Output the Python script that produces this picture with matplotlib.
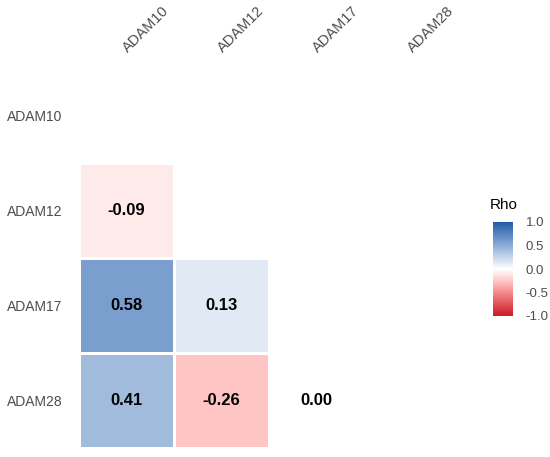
import numpy as np
import matplotlib.pyplot as plt
from matplotlib.colors import LinearSegmentedColormap, Normalize
from matplotlib.colorbar import ColorbarBase

plt.rcParams['font.family'] = ['Liberation Sans', 'DejaVu Sans']

genes = ["ADAM10", "ADAM12", "ADAM17", "ADAM28"]
# lower triangle of the correlation matrix (row, column) -> rho
rho = np.array([
    [np.nan, np.nan, np.nan, np.nan],
    [-0.09, np.nan, np.nan, np.nan],
    [0.58, 0.13, np.nan, np.nan],
    [0.41, -0.26, 0.00, np.nan],
])
cbar_ticks = [1.0, 0.5, 0.0, -0.5, -1.0]

# red - white - blue gradient, roughly like ggplot's gradient2 (Lab blend)
cmap = LinearSegmentedColormap.from_list("rho", [
    (0.0, "#cc1a28"), (0.25, "#f38a8c"), (0.37, "#ffc4c4"),
    (0.5, "#ffffff"), (0.79, "#7ba0cf"), (1.0, "#1f5ba8")], N=257)
norm = Normalize(vmin=-1, vmax=1)

fig = plt.figure(figsize=(5.5, 4.57), dpi=100)
ax = fig.add_axes([79 / 550, 9 / 457, 380 / 550, 380 / 457])

n = len(genes)
masked = np.ma.masked_invalid(rho)
ax.pcolormesh(np.arange(n + 1), np.arange(n + 1), masked, cmap=cmap, norm=norm,
              edgecolors="white", linewidth=2)
ax.set_xlim(0, n)
ax.set_ylim(n, 0)

for i in range(n):
    for j in range(n):
        if not np.isnan(rho[i, j]):
            ax.text(j + 0.5, i + 0.5, f"{rho[i, j]:.2f}", ha="center", va="center",
                    fontsize=12, fontweight="bold", color="black")

ax.set_xticks(np.arange(n) + 0.54)
ax.set_yticks(np.arange(n) + 0.5)
ax.xaxis.tick_top()
ax.set_xticklabels(genes, rotation=45, ha="left", va="bottom", rotation_mode="anchor",
                   fontsize=10.5, color="#4d4d4d")
ax.set_yticklabels(genes, fontsize=10, color="#4d4d4d")
ax.tick_params(axis="both", length=0)
ax.tick_params(axis="x", pad=9)
ax.tick_params(axis="y", pad=12)
for s in ax.spines.values():
    s.set_visible(False)

cax = fig.add_axes([493 / 550, (457 - 316) / 457, 20 / 550, 94 / 457])
cb = ColorbarBase(cax, cmap=cmap, norm=norm, ticks=cbar_ticks)
cb.outline.set_visible(False)
cb.ax.tick_params(length=0, labelsize=9.5, labelcolor="#4d4d4d", pad=9)
cb.ax.set_yticklabels([f"{t:.1f}" for t in cbar_ticks])
fig.text(490 / 550, 1 - 205 / 457, "Rho", fontsize=11, ha="left", va="center")

fig.savefig("out.png", dpi=100)
